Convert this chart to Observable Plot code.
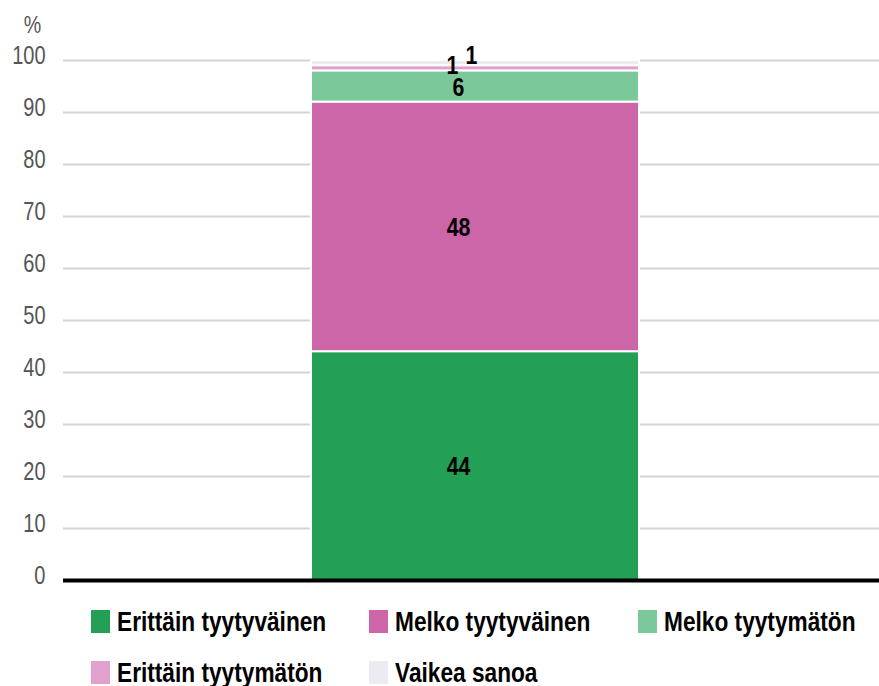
<!DOCTYPE html>
<html>
<head>
<meta charset="utf-8">
<script src="https://cdn.jsdelivr.net/npm/d3@7"></script>
<script src="https://cdn.jsdelivr.net/npm/@observablehq/plot@0.6"></script>
<style>
  body { margin: 0; background: #fff; }
  #chart { width: 879px; }
  .legend { display: grid; grid-template-columns: 278px 269px auto; padding-left: 91px; row-gap: 23px; margin-top: 18px;
            font-family: "Liberation Sans", Arial, sans-serif; }
  .item { display: flex; align-items: flex-start; height: 28px; line-height: 28px; font-weight: bold; font-size: 28px; color: #000; white-space: nowrap; }
  .sw { width: 19px; height: 23px; margin-top: 2px; margin-right: 7px; flex: none; }
  .lab { display: inline-block; transform: scaleX(0.81); transform-origin: 0 50%; }
</style>
</head>
<body>
<div id="chart"></div>
<script>
// Survey answers, in stacking order from the bottom of the bar
const categories = ["Erittäin tyytyväinen", "Melko tyytyväinen", "Melko tyytymätön", "Erittäin tyytymätön", "Vaikea sanoa"];
const values = [44, 48, 6, 1, 1];
const colors = ["#23a055", "#cc66a8", "#7bc89a", "#e0a2cc", "#ecebf2"];
const yTicks = [0, 10, 20, 30, 40, 50, 60, 70, 80, 90, 100];
const group = "Kaikki";

const data = categories.map((cat, i) => ({group, cat, value: values[i]}));
const font = `"Liberation Sans", Arial, sans-serif`;

const labelFor = (pred) => (d) => (pred(d) ? d.value : null);
const small = new Set(["Erittäin tyytymätön", "Vaikea sanoa"]);
const valueText = {x: "group", y: "value", z: "cat", fontSize: 26, fontWeight: "bold", fill: "#000"};

const chart = Plot.plot({
  width: 879,
  height: 590,
  marginLeft: 71,
  marginRight: 0,
  marginTop: 60,
  marginBottom: 10,
  style: {fontFamily: font, background: "#fff"},
  x: {domain: [group], padding: 0.4225, axis: null},
  y: {domain: [0, 100], axis: null},
  color: {domain: categories, range: colors},
  marks: [
    Plot.gridY(yTicks, {stroke: "#d4d4d4", strokeOpacity: 1, strokeWidth: 2, insetLeft: -8}),
    Plot.axisY(yTicks, {tickSize: 0, tickPadding: 26, dy: -5, fontSize: 25, fill: "#555", label: null}),
    Plot.text(["%"], {frameAnchor: "top-left", textAnchor: "middle", lineAnchor: "middle", dx: -39, dy: -35, fontSize: 24, fill: "#555", className: "narrow-text"}),
    Plot.barY(data, Plot.stackY({x: "group", y: "value", z: "cat", fill: "cat", stroke: "#fff", strokeWidth: 2})),
    Plot.text(data, Plot.stackY({...valueText, text: labelFor(d => !small.has(d.cat)), dx: -17, dy: 1, className: "narrow-text"})),
    Plot.text(data, Plot.stackY({...valueText, text: labelFor(d => d.cat === "Erittäin tyytymätön"), dx: -23, dy: -3, className: "narrow-text"})),
    Plot.text(data, Plot.stackY({...valueText, text: labelFor(d => d.cat === "Vaikea sanoa"), dx: -4, dy: -7, className: "narrow-text"})),
    Plot.ruleY([0], {stroke: "#000", strokeWidth: 4, insetLeft: -8})
  ]
});

// Condense the chart's text horizontally
const squeeze = (sel, k) => sel.each(function () {
  const t = this.getAttribute("transform") || "";
  this.setAttribute("transform", `${t} scale(${k},1)`);
});
squeeze(d3.select(chart).selectAll(".narrow-text text"), 0.82);
squeeze(d3.select(chart).selectAll('g[aria-label="y-axis tick label"] text'), 0.8);

document.getElementById("chart").appendChild(chart);

// Legend below the plot
const legend = document.createElement("div");
legend.className = "legend";
categories.forEach((cat, i) => {
  const item = document.createElement("div");
  item.className = "item";
  const sw = document.createElement("span");
  sw.className = "sw";
  sw.style.background = colors[i];
  const lab = document.createElement("span");
  lab.className = "lab";
  lab.textContent = cat;
  item.appendChild(sw);
  item.appendChild(lab);
  legend.appendChild(item);
});
document.getElementById("chart").appendChild(legend);
</script>
</body>
</html>
